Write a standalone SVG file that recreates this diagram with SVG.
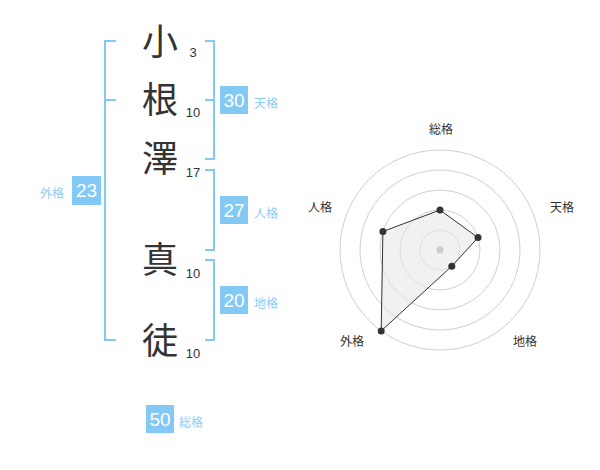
<svg xmlns="http://www.w3.org/2000/svg" width="600" height="470" viewBox="0 0 600 470">
<style>
.kanji{font-family:"Noto Sans CJK JP","Noto Sans CJK SC",sans-serif;font-size:36px;fill:#333;text-anchor:middle}
.num{font-family:"Liberation Sans",Arial,sans-serif;font-size:13px;fill:#333;text-anchor:middle}
.br{fill:none;stroke:#82c9f6;stroke-width:2}
.box{fill:#82c9f6}
.bv{font-family:"Liberation Sans",Arial,sans-serif;font-size:19px;fill:#fff;text-anchor:middle}
.bl{font-family:"Noto Sans CJK JP","Noto Sans CJK SC",sans-serif;font-size:12px;fill:#8ccdf6}
.ring{fill:none;stroke:#cfcfcf;stroke-width:1}
.rl{font-family:"Noto Sans CJK JP","Noto Sans CJK SC",sans-serif;font-size:12px;fill:#333;text-anchor:middle}
.dot{fill:#333}
</style>
<rect width="600" height="470" fill="#fff"/>
<g id="connectors">
<path class="br" d="M116,41 H105 V340 H116 M105,100 H116"/>
<path class="br" d="M205,41 H214 V159 H205 M205,100 H214"/>
<path class="br" d="M205,170 H214 V250 H205"/>
<path class="br" d="M205,260 H214 V340 H205"/>
</g>
<g id="char-1"><text class="kanji" x="160" y="55">小</text><text class="num" x="193" y="57">3</text></g>
<g id="char-2"><text class="kanji" x="160" y="113">根</text><text class="num" x="193" y="117">10</text></g>
<g id="char-3"><text class="kanji" x="160" y="172">澤</text><text class="num" x="193" y="177">17</text></g>
<g id="char-4"><text class="kanji" x="160" y="273">真</text><text class="num" x="193" y="278">10</text></g>
<g id="char-5"><text class="kanji" x="160" y="354">徒</text><text class="num" x="193" y="358">10</text></g>
<g id="tenkaku"><rect class="box" x="220" y="86" width="28" height="28"/><text class="bv" x="234" y="107">30</text><text class="bl" x="254" y="108">天格</text></g>
<g id="jinkaku"><rect class="box" x="220" y="196" width="28" height="28"/><text class="bv" x="234" y="217">27</text><text class="bl" x="254" y="218">人格</text></g>
<g id="chikaku"><rect class="box" x="220" y="286" width="28" height="28"/><text class="bv" x="234" y="307">20</text><text class="bl" x="254" y="308">地格</text></g>
<g id="gaikaku"><rect class="box" x="72" y="176" width="29" height="29"/><text class="bv" x="86.5" y="197">23</text><text class="bl" x="40" y="198">外格</text></g>
<g id="soukaku"><rect class="box" x="146" y="405" width="28" height="28"/><text class="bv" x="160" y="426">50</text><text class="bl" x="179" y="427">総格</text></g>
<g id="radar">
<circle class="ring" cx="440" cy="250" r="20"/>
<circle class="ring" cx="440" cy="250" r="40"/>
<circle class="ring" cx="440" cy="250" r="60"/>
<circle class="ring" cx="440" cy="250" r="80"/>
<circle class="ring" cx="440" cy="250" r="100"/>
<polygon points="440,210 478,237.6 451.8,266.2 381.2,330.9 382.9,231.5" fill="#e8e8e8" fill-opacity="0.6" stroke="#333" stroke-width="1"/>
<circle cx="440" cy="250" r="3.5" fill="#ccc"/>
<circle class="dot" cx="440" cy="210" r="3.5"/>
<circle class="dot" cx="478" cy="237.6" r="3.5"/>
<circle class="dot" cx="451.8" cy="266.2" r="3.5"/>
<circle class="dot" cx="381.2" cy="330.9" r="3.5"/>
<circle class="dot" cx="382.9" cy="231.5" r="3.5"/>
<text class="rl" x="441" y="134">総格</text>
<text class="rl" x="562" y="212">天格</text>
<text class="rl" x="320" y="212">人格</text>
<text class="rl" x="352" y="346">外格</text>
<text class="rl" x="525" y="346">地格</text>
</g>
</svg>
